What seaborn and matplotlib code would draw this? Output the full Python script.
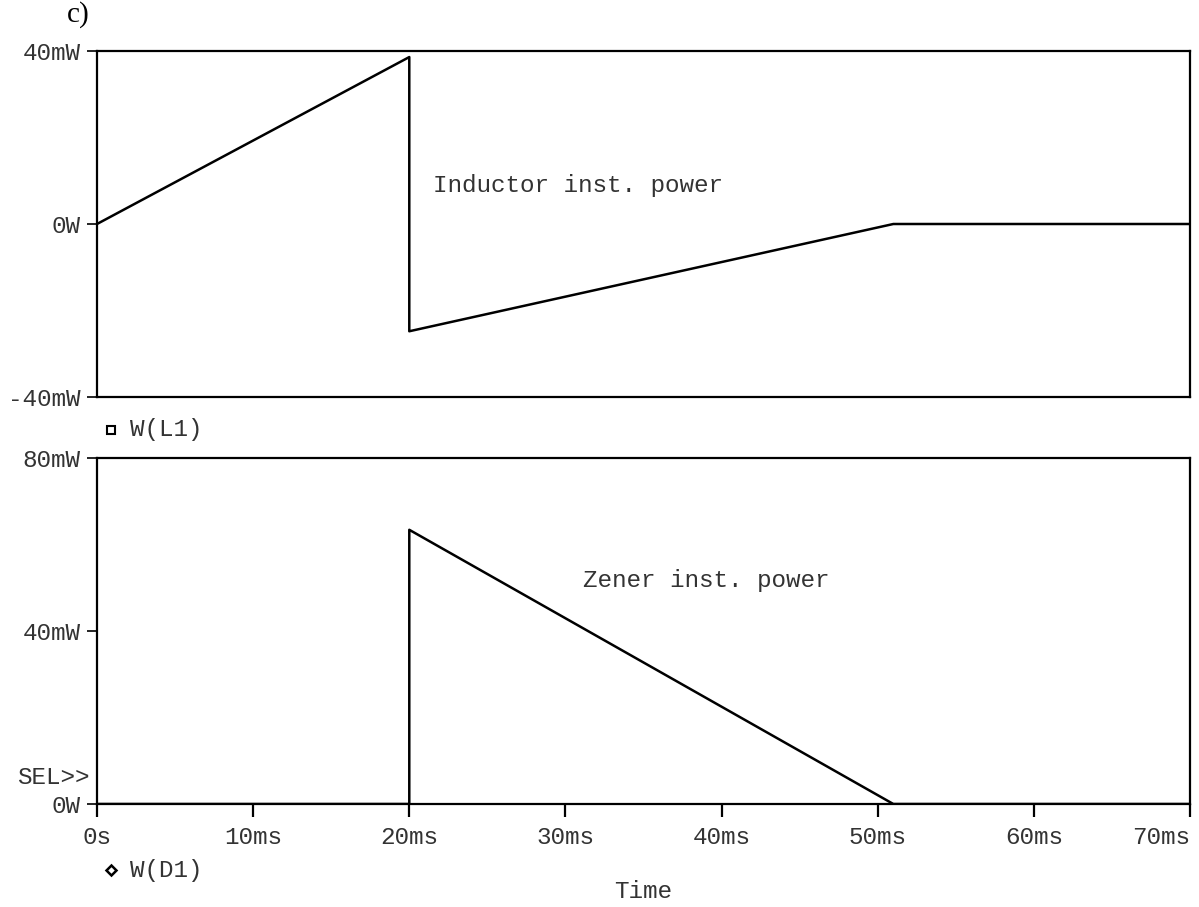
import matplotlib
matplotlib.use("Agg")
import matplotlib.pyplot as plt
import seaborn as sns
import pandas as pd

# Transient simulation: instantaneous power of the inductor and the zener diode
t_inductor = [0, 20, 20, 51, 70]          # ms
p_inductor = [0, 38.6, -24.8, 0, 0]       # mW
t_zener = [0, 20, 20, 51, 70]             # ms
p_zener = [0, 0, 63.4, 0, 0]              # mW

x_ticks = [0, 10, 20, 30, 40, 50, 60, 70]
x_tick_labels = ["0s", "10ms", "20ms", "30ms", "40ms", "50ms", "60ms", "70ms"]
top_ticks = [-40, 0, 40]
top_tick_labels = ["-40mW", "0W", "40mW"]
bottom_ticks = [0, 40, 80]
bottom_tick_labels = ["0W", "40mW", "80mW"]

sns.set_style("white")
plt.rcParams["font.family"] = ["Liberation Mono", "DejaVu Sans Mono"]
FS = 17.5

fig = plt.figure(figsize=(11.99, 9.07), dpi=100)
W, H = 1199, 907
def axes_rect(x0, y0, x1, y1):
    return [x0 / W, 1 - y1 / H, (x1 - x0) / W, (y1 - y0) / H]

ax1 = fig.add_axes(axes_rect(97, 51, 1190, 397))
ax2 = fig.add_axes(axes_rect(97, 458, 1190, 804))

df1 = pd.DataFrame({"t": t_inductor, "p": p_inductor})
df2 = pd.DataFrame({"t": t_zener, "p": p_zener})
sns.lineplot(data=df1, x="t", y="p", ax=ax1, sort=False, estimator=None,
             color="black", linewidth=1.8)
sns.lineplot(data=df2, x="t", y="p", ax=ax2, sort=False, estimator=None,
             color="black", linewidth=1.8)

for ax in (ax1, ax2):
    ax.set_xlim(0, 70)
    for s in ax.spines.values():
        s.set_visible(True)
        s.set_color("black")
        s.set_linewidth(1.6)
    ax.set_ylabel("")
    ax.set_xlabel("")
    ax.tick_params(axis="y", left=True, direction="out", length=7, width=1.2,
                   pad=5, labelsize=FS, colors="black", labelcolor="#333333")

ax1.set_ylim(-40, 40)
ax1.set_yticks(top_ticks)
ax1.set_yticklabels(top_tick_labels)
ax1.set_xticks([])

ax2.set_ylim(0, 80)
ax2.set_yticks(bottom_ticks)
ax2.set_yticklabels(bottom_tick_labels)
ax2.set_xticks(x_ticks)
ax2.set_xticklabels(x_tick_labels)
ax2.tick_params(axis="x", bottom=True, direction="out", length=9, width=1.6,
                pad=7, labelsize=FS, colors="black", labelcolor="#333333")
ax2.get_xticklabels()[-1].set_horizontalalignment("right")
ax2.set_xlabel("Time", fontsize=FS, labelpad=22, color="#333333")

ax1.text(21.5, 9.0, "Inductor inst. power", fontsize=FS, va="center",
         ha="left", color="#333333")
ax2.text(31.1, 51.6, "Zener inst. power", fontsize=FS, va="center",
         ha="left", color="#333333")

# Trace legends under each plot
ax1.plot([0.0128], [-0.095], transform=ax1.transAxes, marker="s", ms=6,
         mfc="white", mec="black", mew=1.5, clip_on=False, ls="none")
ax1.text(0.030, -0.095, "W(L1)", transform=ax1.transAxes, fontsize=FS,
         va="center", ha="left", color="#333333")
ax2.plot([0.0128], [-0.191], transform=ax2.transAxes, marker="D", ms=5.5,
         mfc="white", mec="black", mew=1.8, clip_on=False, ls="none")
ax2.text(0.030, -0.191, "W(D1)", transform=ax2.transAxes, fontsize=FS,
         va="center", ha="left", color="#333333")
ax2.text(-0.0064, 0.078, "SEL>>", transform=ax2.transAxes, fontsize=FS,
         va="center", ha="right", color="#333333")

fig.text(67 / W, 1 - 15 / H, "c)", fontsize=21, family="Liberation Serif",
         va="center", ha="left", color="black")

fig.savefig("out.png", dpi=100, facecolor="white")
